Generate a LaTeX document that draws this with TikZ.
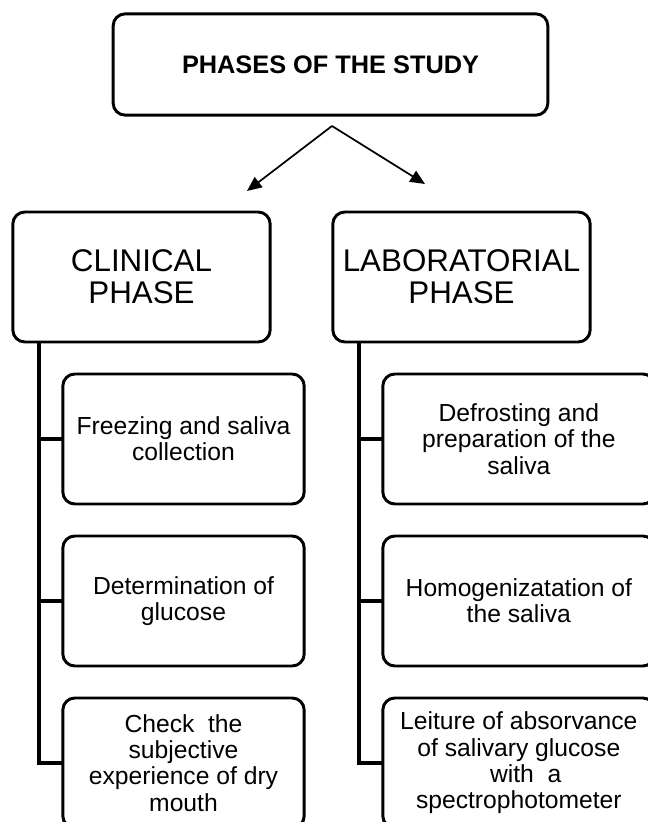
\documentclass[tikz,border=0pt]{standalone}
\usepackage{fontspec}
\setmainfont{Liberation Sans}
\usetikzlibrary{arrows.meta,positioning}
\tikzset{
  blk/.style={draw,rectangle,rounded corners=9pt,line width=2.2pt,align=center,inner sep=0pt,outer sep=0pt},
  topblk/.style={blk,minimum width=326pt,minimum height=76pt,font=\fontsize{19}{22}\selectfont\bfseries},
  phaseblk/.style={blk,minimum width=193pt,minimum height=97.5pt,font=\fontsize{23.5}{24}\selectfont},
  stepblk/.style={blk,minimum width=181pt,minimum height=97.5pt,font=\fontsize{18.5}{19.7}\selectfont},
  labstepblk/.style={stepblk,minimum width=204pt},
  arr/.style={-{Triangle[length=11pt,width=9.5pt]},line width=1.3pt},
  trunk/.style={line width=2.3pt}
}
\begin{document}
\begin{tikzpicture}[x=0.75pt,y=0.75pt,node distance=24pt and 37.5pt]
  \useasboundingbox (0,0) rectangle (647,822);
  \node[topblk] (study) at (330.5,757.5) {PHASES OF THE STUDY};
  \node[phaseblk] (clin) at (141.5,545) {CLINICAL\\PHASE};
  \node[phaseblk] (lab) at (461.5,545) {LABORATORIAL\\PHASE};

  % clinical steps
  \node[stepblk, below right=of clin.south west] (c1) {Freezing and saliva\\collection};
  \node[stepblk, below=of c1] (c2) {Determination of\\glucose};
  \node[stepblk, below=of c2] (c3) {Check~ the\\subjective\\experience of dry\\mouth};

  % laboratorial steps
  \node[labstepblk, below right=of lab.south west] (l1) {Defrosting and\\preparation of the\\saliva};
  \node[labstepblk, below=of l1] (l2) {Homogenizatation of\\the saliva};
  \node[labstepblk, below=of l2] (l3) {Leiture of absorvance\\of salivary glucose\\~ with~ a\\spectrophotometer};

  \coordinate (apex) at (332,696);
  \coordinate (ctip) at (247,631);
  \coordinate (ltip) at (425,638);
  \draw[arr] (apex)--(ctip);
  \draw[arr] (apex)--(ltip);

  \coordinate (cx) at (39,0);
  \coordinate (lx) at (359,0);
  \draw[trunk] (clin.south -| cx) |- (c3.west);
  \draw[trunk] (c1.west -| cx) -- (c1.west);
  \draw[trunk] (c2.west -| cx) -- (c2.west);
  \draw[trunk] (lab.south -| lx) |- (l3.west);
  \draw[trunk] (l1.west -| lx) -- (l1.west);
  \draw[trunk] (l2.west -| lx) -- (l2.west);
\end{tikzpicture}
\end{document}
